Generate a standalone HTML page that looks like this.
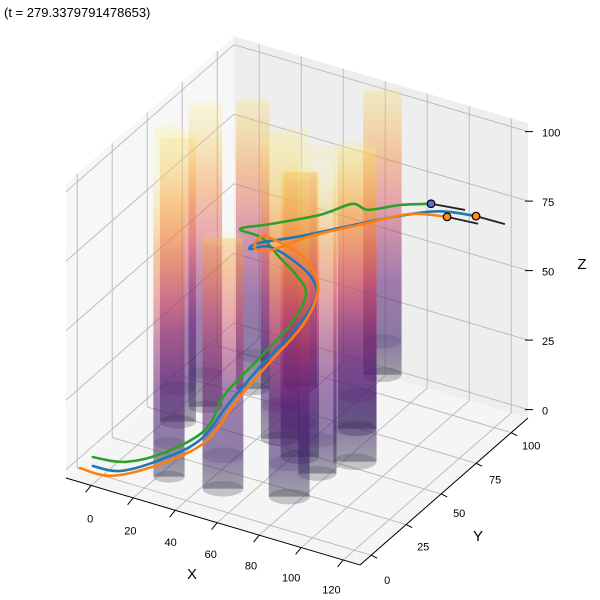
<!DOCTYPE html>
<html><head><meta charset="utf-8"><style>
html,body{margin:0;padding:0;background:#fff;}
svg{display:block;font-family:"Liberation Sans",sans-serif;}
</style></head><body>
<svg id="chart" width="600" height="600" viewBox="0 0 600 600" xmlns="http://www.w3.org/2000/svg">
<defs id="defs"></defs>
<text x="4" y="17" font-size="13" fill="#000">(t = 279.3379791478653)</text>
<g id="panes"></g>
<g id="grid"></g>
<g id="axes"></g>
<g id="cyls"></g>
<g id="paths"></g>
<text x="192" y="579" font-size="15" text-anchor="middle">X</text>
<text x="478" y="541" font-size="15" text-anchor="middle">Y</text>
<text x="582" y="269" font-size="15" text-anchor="middle">Z</text>
</svg>
<script>
const xTicks=[0,20,40,60,80,100,120];
const yTicks=[0,25,50,75,100];
const zTicks=[0,25,50,75,100];
const cylX=[27.5,51.6,78.4,79,87.6,75,62,51.6,66,8.3,12,21.6,37.5];
const cylY=[6.3,8.7,15.8,35,49,69.5,107,49.5,42,41.5,55.5,75,85];
const cylH=[125,90,131,116,113,100,102,107,102,102,108,103,77];
const cylR=[6.5,8.5,8.5,8,9,8,8,8,8,7.5,7,7,7];
const blueX=[-6.5,5,20.8,36.5,47.4,59.3,71.7,78.4,73.1,59.3,45.5,37,39.4,55.4,73.9,91,103.4,113.9];
const blueY=[3,5,10,15,20,25,30,35,40,45,50,50,52,58,66,76,86,96];
const blueZ=[-2.3,-2.4,2.9,11.4,25.3,39.1,52.4,63,66.8,68.7,67.6,64.7,66.5,69.9,74.3,77.3,77.3,73.5];
const greenX=[-6.5,7.4,23.1,38.9,45,57.4,69.3,73.6,65.5,54.6,42.7,30.9,42.5,62.3,74.9,80.5,91.7,102.5];
const greenY=[3,5,10,15,20,25,30,35,40,45,50,52,56,62,66,69,75,81];
const greenZ=[0.9,1.4,6.1,15.5,27.4,40.6,53.4,63.1,66.3,67.7,70,69.7,72.3,77.4,82.4,80.2,81.8,82];
const orangeX=[-12.7,1.2,20.8,38.9,50.8,63.1,75.5,79.3,71.2,57,44,39.3,46.1,60.2,78.7,97.1,110.8];
const orangeY=[3,5,10,15,20,25,30,35,40,45,48,50,52,58,66,74,80];
const orangeZ=[-4.4,-5,1.4,11.2,26.7,40.9,54.9,66.1,72.2,72.8,71.8,65.5,65.6,71,75.8,80.2,79.6];
const tailEnd={blue:[121,106,67.8],orange:[118.9,90,74.5],green:[112,91,77.5]};

const XMIN=-12,XMAX=128,YMIN=-8,YMAX=112,ZMIN=-3,ZMAX=103;
function P(x,y,z){const a=x-XMIN,b=y-YMIN,c=z-ZMIN;return [66+2.1*a+1.4*b,478+0.621*a-1.225*b-2.78*c];}
const NS="http://www.w3.org/2000/svg";
function mk(tag,attrs,parent){const e=document.createElementNS(NS,tag);for(const k in attrs)e.setAttribute(k,attrs[k]);parent.appendChild(e);return e;}
function poly(pts){return pts.map(p=>p[0].toFixed(1)+","+p[1].toFixed(1)).join(" ");}

const panes=document.getElementById('panes');
let e;
e=mk('polygon',{points:poly([P(XMIN,YMIN,ZMIN),P(XMAX,YMIN,ZMIN),P(XMAX,YMAX,ZMIN),P(XMIN,YMAX,ZMIN)]),fill:'#f5f5f5'},panes);


e=mk('polygon',{points:poly([P(XMIN,YMIN,ZMIN),P(XMIN,YMAX,ZMIN),P(XMIN,YMAX,ZMAX),P(XMIN,YMIN,ZMAX)]),fill:'#f7f7f7'},panes);


e=mk('polygon',{points:poly([P(XMIN,YMAX,ZMIN),P(XMAX,YMAX,ZMIN),P(XMAX,YMAX,ZMAX),P(XMIN,YMAX,ZMAX)]),fill:'#eeeeee'},panes);



const grid=document.getElementById('grid');
function gl(p,q,name){const l=mk('line',{x1:p[0],y1:p[1],x2:q[0],y2:q[1],stroke:'#b8b8b8','stroke-width':0.9},grid);

}
xTicks.forEach(x=>{gl(P(x,YMIN,ZMIN),P(x,YMAX,ZMIN),'x-gridline');gl(P(x,YMAX,ZMIN),P(x,YMAX,ZMAX),'x-gridline');});
yTicks.forEach(y=>{gl(P(XMIN,y,ZMIN),P(XMAX,y,ZMIN),'y-gridline');gl(P(XMIN,y,ZMIN),P(XMIN,y,ZMAX),'y-gridline');});
zTicks.forEach(z=>{gl(P(XMIN,YMIN,z),P(XMIN,YMAX,z),'z-gridline');gl(P(XMIN,YMAX,z),P(XMAX,YMAX,z),'z-gridline');});

const axes=document.getElementById('axes');
function al(p,q,name){const l=mk('line',{x1:p[0],y1:p[1],x2:q[0],y2:q[1],stroke:'#000','stroke-width':1},axes);

}
function tx(x,y,s,anchor,name){const t=mk('text',{x:x,y:y,'font-size':11,'text-anchor':anchor,fill:'#000'},axes);t.textContent=s;

}
al(P(XMIN,YMIN,ZMIN),P(XMAX,YMIN,ZMIN),'x-axis-line');
al(P(XMAX,YMIN,ZMIN),P(XMAX,YMAX,ZMIN),'y-axis-line');
xTicks.forEach(x=>{const p=P(x,YMIN,ZMIN),q=P(x,YMIN-4,ZMIN);al(p,[q[0],q[1]+2],'x-tick');
tx(p[0]-1-0.09*x,p[1]+37-0.03*x,String(x),'middle','x-tick-label');});
yTicks.forEach(y=>{const p=P(XMAX,y,ZMIN);al(p,[p[0]+6,p[1]+3],'y-tick');
tx(p[0]+16+0.04*y,p[1]+29-0.12*y,String(y),'middle','y-tick-label');});
zTicks.forEach(z=>{const p=P(XMAX,YMAX,z);al([p[0]-3,p[1]],[p[0]+5,p[1]],'z-tick');
tx(p[0]+14,p[1]+5,String(z),'start','z-tick-label');});

const defs=document.getElementById('defs');
const cyls=document.getElementById('cyls');
const order=cylX.map((v,i)=>i).sort((i,j)=>(cylX[i]-cylY[i])-(cylX[j]-cylY[j]));
const stops=[[0,'#4a4a5c',0.5],[0.12,'#361a66',0.55],[0.3,'#5e1c74',0.55],[0.45,'#a0306c',0.5],[0.58,'#dc5158',0.45],[0.72,'#f4862f',0.42],[0.86,'#f8c040',0.32],[1,'#f8ee80',0.18]];
order.forEach((i,k)=>{
  const b=P(cylX[i],cylY[i],0),t=P(cylX[i],cylY[i],cylH[i]);
  const rx=cylR[i]*2.4,ry=rx*0.38;
  const g=mk('linearGradient',{id:'cg'+i,gradientUnits:'userSpaceOnUse',x1:0,y1:b[1],x2:0,y2:b[1]-2.78*110},defs);
  stops.forEach(s=>mk('stop',{offset:s[0],'stop-color':s[1],'stop-opacity':s[2]},g));
  const grp=mk('g',{},cyls);
  
  
  mk('rect',{x:b[0]-rx,y:t[1],width:2*rx,height:b[1]-t[1],fill:'url(#cg'+i+')'},grp);
  mk('ellipse',{cx:b[0],cy:b[1],rx:rx,ry:ry,fill:'rgba(80,80,95,0.3)'},grp);
  const m=P(cylX[i],cylY[i],12);
  mk('ellipse',{cx:m[0],cy:m[1],rx:rx,ry:ry,fill:'rgba(60,40,90,0.15)'},grp);
  mk('ellipse',{cx:t[0],cy:t[1],rx:rx,ry:ry,fill:'rgba(248,238,140,0.15)'},grp);
});

const paths=document.getElementById('paths');
function traj(xs,ys,zs,color,name,tail,fillm){
  const pts=xs.map((x,i)=>P(x,ys[i],zs[i]));
  let d='M'+pts[0][0].toFixed(1)+' '+pts[0][1].toFixed(1);
  for(let i=1;i<pts.length;i++){const p0=pts[i-1],p1=pts[i],pm=pts[i-2]||p0,pn=pts[i+1]||p1;
    const c1=[p0[0]+(p1[0]-pm[0])/6,p0[1]+(p1[1]-pm[1])/6],c2=[p1[0]-(pn[0]-p0[0])/6,p1[1]-(pn[1]-p0[1])/6];
    d+=' C'+c1.map(v=>v.toFixed(1)).join(' ')+' '+c2.map(v=>v.toFixed(1)).join(' ')+' '+p1[0].toFixed(1)+' '+p1[1].toFixed(1);}
  const p=mk('path',{d:d,fill:'none',stroke:color,'stroke-width':2.6,'stroke-linejoin':'round','stroke-linecap':'round'},paths);
  
  
  const end=pts[pts.length-1],te=P(tail[0],tail[1],tail[2]);
  const l=mk('line',{x1:end[0],y1:end[1],x2:te[0],y2:te[1],stroke:'#222','stroke-width':1.8},paths);
  
  
  const c=mk('circle',{cx:end[0],cy:end[1],r:3.8,fill:fillm,stroke:'#000','stroke-width':1.2},paths);
  
  
}
traj(greenX,greenY,greenZ,'#2ca02c','green',tailEnd.green,'#5a6fd0');
traj(blueX,blueY,blueZ,'#1f77b4','blue',tailEnd.blue,'#ff8c1a');
traj(orangeX,orangeY,orangeZ,'#ff7f0e','orange',tailEnd.orange,'#ff8c1a');
</script>
</body></html>
